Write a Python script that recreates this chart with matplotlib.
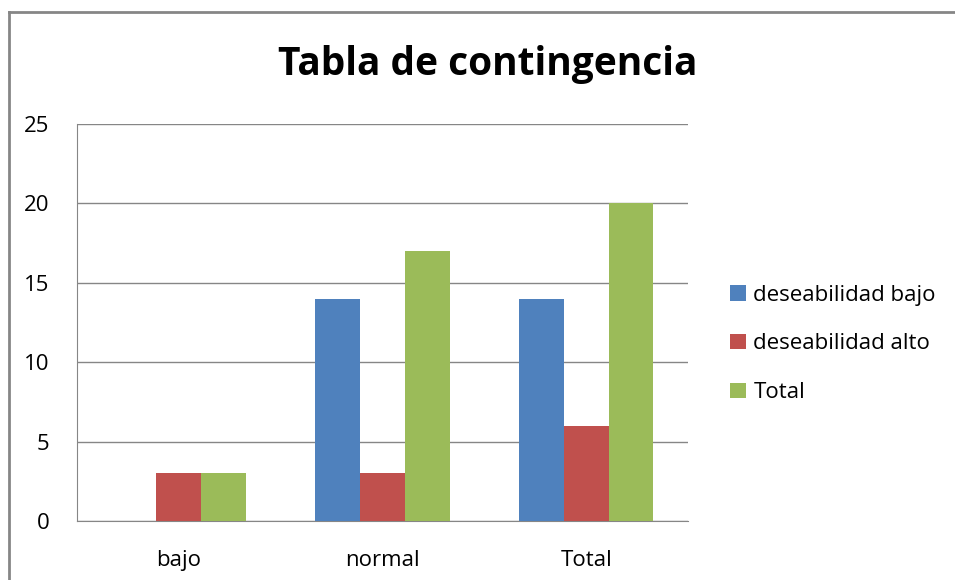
import numpy as np
import matplotlib.pyplot as plt
from matplotlib.lines import Line2D

# Datos de la tabla de contingencia
categorias = ["bajo", "normal", "Total"]
deseabilidad_bajo = [0, 14, 14]
deseabilidad_alto = [3, 3, 6]
total = [3, 17, 20]
series = ["deseabilidad bajo", "deseabilidad alto", "Total"]
colores = ["#4F81BD", "#C0504D", "#9BBB59"]

plt.rcParams['font.family'] = ['Open Sans', 'DejaVu Sans']

fig = plt.figure(figsize=(9.55, 5.8), dpi=100)
ax = fig.add_axes([77 / 955, 1 - 521 / 580, (688 - 77) / 955, (521 - 124) / 580])

# Marco exterior (solo izquierda y arriba visibles)
borde_x = 9 / 955
borde_y = 1 - 12 / 580
fig.add_artist(Line2D([borde_x, borde_x], [0, borde_y], transform=fig.transFigure,
                      color="#868686", linewidth=2))
fig.add_artist(Line2D([borde_x, 1.01], [borde_y, borde_y], transform=fig.transFigure,
                      color="#868686", linewidth=2))

x = np.arange(len(categorias))
ancho = 0.22
valores = [deseabilidad_bajo, deseabilidad_alto, total]
for i, (vals, nombre, color) in enumerate(zip(valores, series, colores)):
    ax.bar(x + (i - 1) * ancho, vals, ancho, color=color, label=nombre, zorder=3)

ax.set_xlim(-0.5, 2.5)
ax.set_ylim(0, 25)
ax.set_yticks(range(0, 26, 5))
ax.set_xticks(x)
ax.set_xticklabels(categorias)
ax.yaxis.grid(True, color="#868686", linewidth=1, zorder=0)
ax.tick_params(axis='both', length=0, labelsize=16)
ax.tick_params(axis='x', pad=21)
ax.tick_params(axis='y', pad=20)
for lado in ["top", "right"]:
    ax.spines[lado].set_visible(False)
ax.spines["left"].set_color("#868686")
ax.spines["bottom"].set_color("#868686")

fig.text(488 / 955, 1 - 65 / 580, "Tabla de contingencia", ha="center", va="center",
         fontsize=28, fontweight="bold")

ax.legend(loc="center left", bbox_to_anchor=(710 / 955, 1 - 344 / 580),
          bbox_transform=fig.transFigure, frameon=False, fontsize=16,
          handlelength=0.7, handleheight=0.7, handletextpad=0.35, labelspacing=1.25)

fig.savefig("out.png", dpi=100)
